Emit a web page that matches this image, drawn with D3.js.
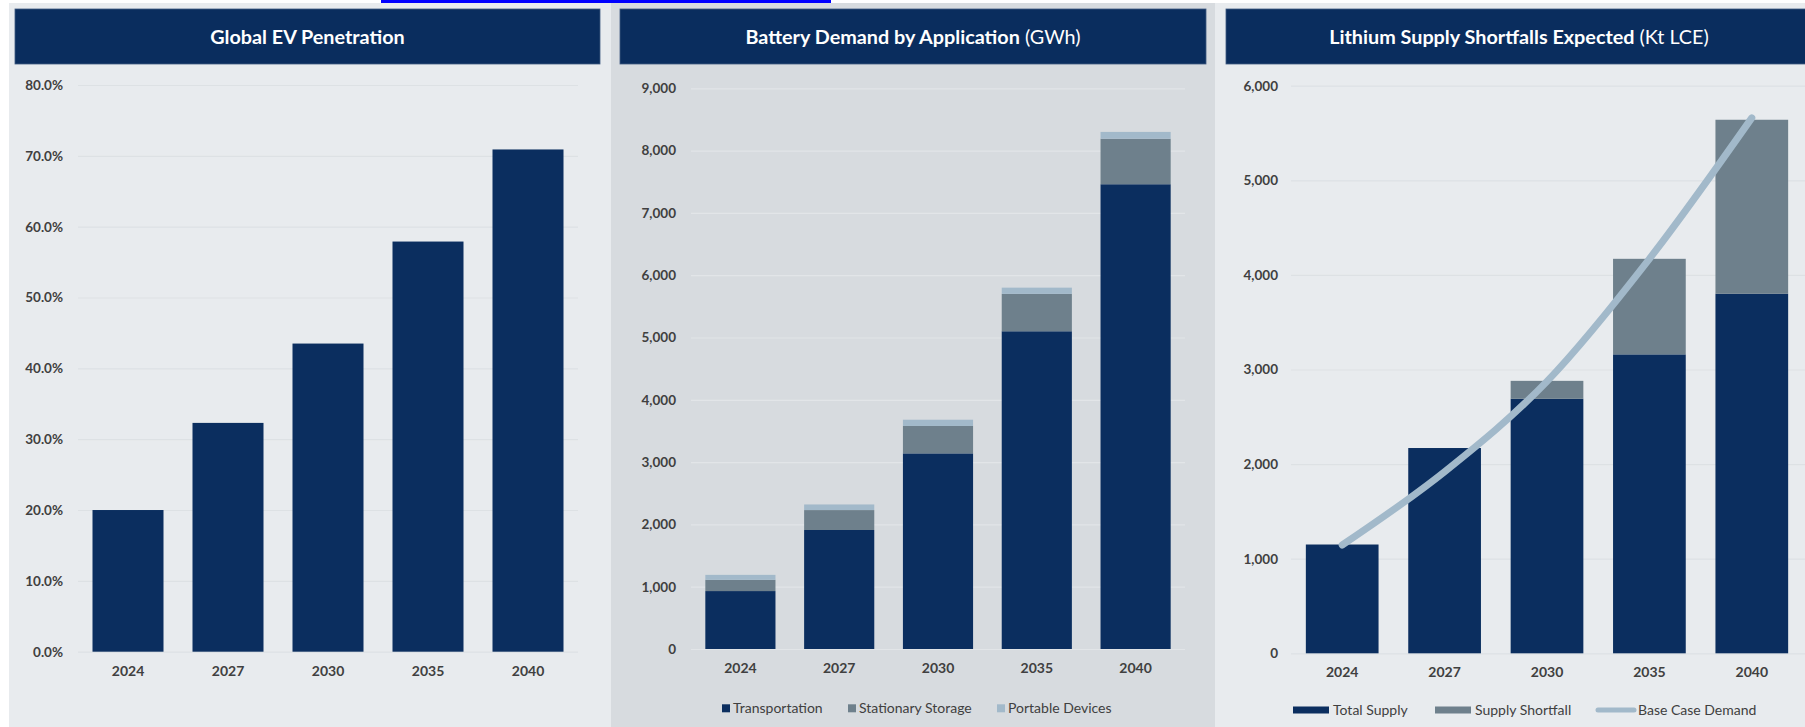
<!DOCTYPE html>
<html>
<head>
<meta charset="utf-8">
<script src="https://cdn.jsdelivr.net/npm/d3@7"></script>
<style>
  body { margin: 0; background: #ffffff; }
  text { font-family: Lato, "Open Sans", sans-serif; }
  .tick text { fill: #404040; font-weight: 700; font-size: 13.5px; }
  .legend text { fill: #404040; font-size: 14px; }
  .title { fill: #ffffff; font-size: 19.8px; font-weight: 700; }
</style>
</head>
<body>
<div id="charts"></div>
<script>
var width = 1805;
var height = 727;

var navy = "#0b2e5f";
var gray = "#6e808c";
var lightBlue = "#a2b9ca";

// shared categories
var years = ["2024", "2027", "2030", "2035", "2040"];

// Global EV Penetration (%)
var evPenetration = [20.0, 32.3, 43.5, 57.9, 70.9];
var evTicks = [0, 10, 20, 30, 40, 50, 60, 70, 80];

// Battery Demand by Application (GWh)
var transportation = [930, 1910, 3140, 5100, 7460];
var stationaryStorage = [180, 320, 440, 600, 730];
var portableDevices = [80, 90, 100, 100, 110];
var batteryTicks = [0, 1000, 2000, 3000, 4000, 5000, 6000, 7000, 8000, 9000];
var batterySeries = ["Transportation", "Stationary Storage", "Portable Devices"];

// Lithium Supply Shortfalls Expected (Kt LCE)
var totalSupply = [1150, 2170, 2690, 3160, 3800];
var supplyShortfall = [0, 0, 190, 1010, 1840];
var baseCaseDemand = [1145, 1920, 2875, 4170, 5660];
var lithiumTicks = [0, 1000, 2000, 3000, 4000, 5000, 6000];
var lithiumSeries = ["Total Supply", "Supply Shortfall", "Base Case Demand"];

var svg = d3.select("#charts")
            .append("svg")
            .attr("width", width)
            .attr("height", height);

// the cut link underline from the page above the charts
svg.append("rect")
   .attr("x", 381).attr("y", 0)
   .attr("width", 450).attr("height", 3)
   .attr("fill", "#0000ff");

function panel(opts) {
  var g = svg.append("g");

  g.append("rect")
   .attr("x", opts.bx0).attr("y", 3)
   .attr("width", opts.bx1 - opts.bx0).attr("height", height - 3)
   .attr("fill", opts.bg);

  g.append("rect")
   .attr("x", opts.tx0).attr("y", 9)
   .attr("width", opts.tx1 - opts.tx0).attr("height", 55)
   .attr("fill", "#0a2d5e")
   .attr("stroke", "#3f5a80")
   .attr("stroke-width", 0.8);

  var t = g.append("text")
           .attr("class", "title")
           .attr("x", (opts.tx0 + opts.tx1) / 2)
           .attr("y", 37)
           .attr("dy", "0.35em")
           .attr("text-anchor", "middle");
  t.append("tspan").text(opts.title);
  if (opts.unit) {
    t.append("tspan").attr("font-weight", 400).text(" " + opts.unit);
  }

  var x = d3.scaleBand()
            .domain(years)
            .range([opts.x0, opts.x1])
            .paddingInner(0.29)
            .paddingOuter(0.145);

  var y = d3.scaleLinear()
            .domain([0, opts.max])
            .range([opts.y0, opts.y1]);

  var yAxis = d3.axisLeft(y)
                .tickValues(opts.ticks)
                .tickFormat(opts.fmt)
                .tickSize(-(opts.gx1 - opts.x0))
                .tickPadding(opts.pad);

  var ga = g.append("g")
            .attr("transform", "translate(" + opts.x0 + ",0)")
            .call(yAxis);
  ga.select(".domain").remove();
  ga.selectAll(".tick line").attr("stroke", opts.grid).attr("stroke-width", 1.2);

  var xAxis = d3.axisBottom(x)
                .tickSize(0)
                .tickPadding(14);

  var gx = g.append("g")
            .attr("transform", "translate(0," + opts.y0 + ")")
            .call(xAxis);
  gx.select(".domain").remove();
  gx.selectAll(".tick text").style("font-size", "14px");

  return {g: g, x: x, y: y};
}

// ---- Global EV Penetration
var p1 = panel({
  bx0: 9, bx1: 611, bg: "#e8ebee",
  tx0: 15, tx1: 600, title: "Global EV Penetration",
  x0: 78, x1: 578, gx1: 578, y0: 651.7, y1: 85, max: 80,
  ticks: evTicks, fmt: function(d) { return d.toFixed(1) + "%"; },
  pad: 15, grid: "#dde1e4"
});

p1.g.selectAll(".bar")
  .data(evPenetration)
  .enter().append("rect")
  .attr("class", "bar")
  .attr("x", function(d, i) { return p1.x(years[i]); })
  .attr("width", p1.x.bandwidth())
  .attr("y", function(d) { return p1.y(d); })
  .attr("height", function(d) { return p1.y(0) - p1.y(d); })
  .attr("fill", navy);

// ---- Battery Demand by Application
var p2 = panel({
  bx0: 611, bx1: 1215, bg: "#d7dbdf",
  tx0: 620, tx1: 1206, title: "Battery Demand by Application", unit: "(GWh)",
  x0: 691, x1: 1185, gx1: 1185, y0: 649, y1: 88.3, max: 9000,
  ticks: batteryTicks, fmt: d3.format(","),
  pad: 15, grid: "#e2e5e8"
});

var batteryRows = years.map(function(yr, i) {
  return {year: yr, "Transportation": transportation[i],
          "Stationary Storage": stationaryStorage[i],
          "Portable Devices": portableDevices[i]};
});
var batteryColor = d3.scaleOrdinal().domain(batterySeries).range([navy, gray, lightBlue]);
var batteryStack = d3.stack().keys(batterySeries)(batteryRows);

p2.g.selectAll(".layer")
  .data(batteryStack)
  .enter().append("g")
  .attr("fill", function(d) { return batteryColor(d.key); })
  .selectAll("rect")
  .data(function(d) { return d; })
  .enter().append("rect")
  .attr("x", function(d) { return p2.x(d.data.year); })
  .attr("width", p2.x.bandwidth())
  .attr("y", function(d) { return p2.y(d[1]); })
  .attr("height", function(d) { return p2.y(d[0]) - p2.y(d[1]); });

var leg2x = [722, 848, 997];
var leg2 = p2.g.append("g").attr("class", "legend");
batterySeries.forEach(function(s, i) {
  leg2.append("rect")
      .attr("x", leg2x[i]).attr("y", 704.3)
      .attr("width", 8).attr("height", 8)
      .attr("fill", batteryColor(s));
  leg2.append("text")
      .attr("x", leg2x[i] + 11).attr("y", 708.3)
      .attr("dy", "0.35em")
      .text(s);
});

// ---- Lithium Supply Shortfalls Expected
var p3 = panel({
  bx0: 1215, bx1: 1805, bg: "#e8ebee",
  tx0: 1226, tx1: 1812, title: "Lithium Supply Shortfalls Expected", unit: "(Kt LCE)",
  x0: 1291, x1: 1803, gx1: 1805, y0: 653.3, y1: 85.7, max: 6000,
  ticks: lithiumTicks, fmt: d3.format(","),
  pad: 13, grid: "#dde1e4"
});

var lithiumRows = years.map(function(yr, i) {
  return {year: yr, "Total Supply": totalSupply[i], "Supply Shortfall": supplyShortfall[i]};
});
var lithiumColor = d3.scaleOrdinal().domain(lithiumSeries).range([navy, gray, lightBlue]);
var lithiumStack = d3.stack().keys(["Total Supply", "Supply Shortfall"])(lithiumRows);

p3.g.selectAll(".layer")
  .data(lithiumStack)
  .enter().append("g")
  .attr("fill", function(d) { return lithiumColor(d.key); })
  .selectAll("rect")
  .data(function(d) { return d.filter(function(v) { return v[1] > v[0]; }); })
  .enter().append("rect")
  .attr("x", function(d) { return p3.x(d.data.year); })
  .attr("width", p3.x.bandwidth())
  .attr("y", function(d) { return p3.y(d[1]); })
  .attr("height", function(d) { return p3.y(d[0]) - p3.y(d[1]); });

var demandLine = d3.line()
                   .x(function(d, i) { return p3.x(years[i]) + p3.x.bandwidth() / 2; })
                   .y(function(d) { return p3.y(d); })
                   .curve(d3.curveMonotoneX);

p3.g.append("path")
  .attr("d", demandLine(baseCaseDemand))
  .attr("fill", "none")
  .attr("stroke", lightBlue)
  .attr("stroke-width", 7)
  .attr("stroke-linecap", "round")
  .attr("stroke-linejoin", "round");

var leg3 = p3.g.append("g").attr("class", "legend");
leg3.append("rect").attr("x", 1293).attr("y", 706.5).attr("width", 36).attr("height", 7)
    .attr("fill", lithiumColor("Total Supply"));
leg3.append("text").attr("x", 1333).attr("y", 710).attr("dy", "0.35em").text("Total Supply");
leg3.append("rect").attr("x", 1435).attr("y", 706.5).attr("width", 36).attr("height", 7)
    .attr("fill", lithiumColor("Supply Shortfall"));
leg3.append("text").attr("x", 1475).attr("y", 710).attr("dy", "0.35em").text("Supply Shortfall");
leg3.append("line").attr("x1", 1598).attr("x2", 1634).attr("y1", 710).attr("y2", 710)
    .attr("stroke", lithiumColor("Base Case Demand")).attr("stroke-width", 5)
    .attr("stroke-linecap", "round");
leg3.append("text").attr("x", 1638).attr("y", 710).attr("dy", "0.35em").text("Base Case Demand");
</script>
</body>
</html>
